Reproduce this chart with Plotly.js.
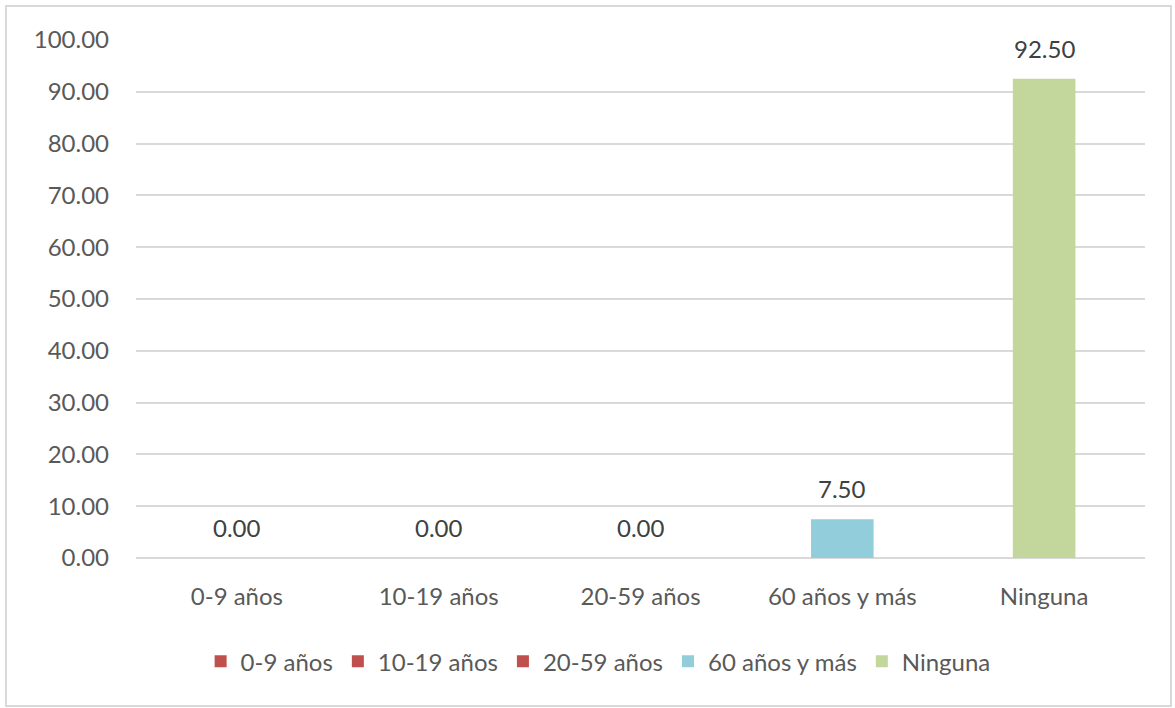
<!DOCTYPE html>
<html><head><meta charset="utf-8">
<script src="https://cdn.plot.ly/plotly-3.0.1.min.js"></script>
<style>
html,body{margin:0;padding:0;background:#fff;}
#wrap{position:relative;width:1175px;height:708px;}
#chart{width:1175px;height:708px;}
#frame{position:absolute;left:5px;top:5px;width:1163px;height:698px;border:2px solid #D9D9D9;pointer-events:none;}
</style></head>
<body>
<div id="wrap"><div id="chart"></div><div id="frame"></div></div>
<script>
const categories = ["0-9 años", "10-19 años", "20-59 años", "60 años y más", "Ninguna"];
const values = [0.00, 0.00, 0.00, 7.50, 92.50];
const colors = ["#C0504D", "#C0504D", "#C0504D", "#92CDDC", "#C3D69B"];
const yTicks = [0,10,20,30,40,50,60,70,80,90,100];

const FONT = "Lato, 'Open Sans', sans-serif";
const TXT = "#595959";
const FS = 24;

const traces = categories.map((c, i) => ({
  type: "bar",
  name: c,
  x: [c],
  y: [values[i]],
  width: 0.31,
  marker: {color: colors[i]},
  hoverinfo: "x+y"
}));

const annotations = categories.map((c, i) => ({
  x: c, y: values[i], xref: "x", yref: "y",
  text: values[i].toFixed(2),
  showarrow: false, yanchor: "bottom", yshift: 14,
  font: {family: FONT, size: FS, color: "#404040"}
}));

const layout = {
  width: 1175, height: 708,
  margin: {l: 136, r: 30, t: 40, b: 150},
  paper_bgcolor: "#fff", plot_bgcolor: "#fff",
  barmode: "overlay",
  font: {family: FONT, size: FS, color: TXT},
  xaxis: {
    categoryorder: "array", categoryarray: categories,
    showgrid: false, zeroline: false, showline: false,
    ticks: "", ticklabelstandoff: 22,
    tickfont: {family: FONT, size: FS, color: TXT}
  },
  yaxis: {
    range: [0, 100], tickvals: yTicks,
    ticktext: yTicks.map(v => v.toFixed(2)),
    showgrid: true, gridcolor: "#D9D9D9", gridwidth: 2,
    zeroline: true, zerolinecolor: "#D9D9D9", zerolinewidth: 2,
    showline: false, ticks: "", ticklabelstandoff: 26,
    tickfont: {family: FONT, size: FS, color: TXT}
  },
  showlegend: true,
  legend: {
    orientation: "h", x: 0.458, xanchor: "center", y: -0.2, yanchor: "middle",
    font: {family: FONT, size: FS, color: TXT},
    itemwidth: 30, traceorder: "normal"
  },
  annotations: annotations
};

Plotly.newPlot("chart", traces, layout, {displayModeBar: false, staticPlot: true});
</script>
</body></html>
